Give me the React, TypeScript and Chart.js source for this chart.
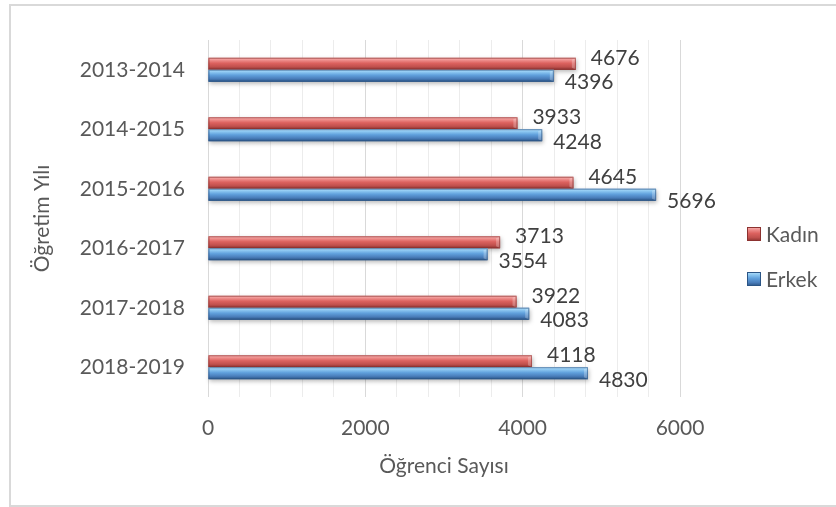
import React, { useEffect, useRef } from 'react';
import { Chart, registerables } from 'chart.js';

Chart.register(...registerables);

// ---- Data ----
const categories = ['2013-2014', '2014-2015', '2015-2016', '2016-2017', '2017-2018', '2018-2019'];
const kadin = [4676, 3933, 4645, 3713, 3922, 4118];
const erkek = [4396, 4248, 5696, 3554, 4083, 4830];
const seriesNames = ['Kadın', 'Erkek'];
const xTitle = 'Öğrenci Sayısı';
const yTitle = 'Öğretim Yılı';
const xMin = 0;
const xMax = 6000;
const xMajorStep = 2000;
const xMinorStep = 400;

const FONT = 'Lato, "Open Sans", sans-serif';
const FONT_SIZE = 21;
const AXIS_COLOR = '#595959';
const LABEL_COLOR = '#404040';

const gradStops = [
  // Kadın (red)
  [
    [0, '#f8b6b5'],
    [0.18, '#ef918f'],
    [0.45, '#dc625f'],
    [0.75, '#c0504d'],
    [1, '#8c3230'],
  ],
  // Erkek (blue)
  [
    [0, '#b8e2fb'],
    [0.18, '#8fc9f2'],
    [0.45, '#61a1dd'],
    [0.75, '#4a7ebb'],
    [1, '#2b5586'],
  ],
];
const edgeColors = ['#8c3230', '#2b5586'];

function makeGrad(ctx: CanvasRenderingContext2D, top: number, h: number, idx: number) {
  const g = ctx.createLinearGradient(0, top, 0, top + h);
  for (const [o, c] of gradStops[idx]) g.addColorStop(o as number, c as string);
  return g;
}

const decorPlugin = {
  id: 'decor',
  beforeDraw(chart: any) {
    const ctx = chart.ctx as CanvasRenderingContext2D;
    ctx.save();
    ctx.fillStyle = '#ffffff';
    ctx.fillRect(0, 0, chart.width, chart.height);
    ctx.strokeStyle = '#d9d9d9';
    ctx.lineWidth = 2;
    ctx.strokeRect(10, 5, chart.width + 20, chart.height - 6);
    ctx.restore();
  },
  afterDatasetsDraw(chart: any) {
    const ctx = chart.ctx as CanvasRenderingContext2D;
    chart.data.datasets.forEach((ds: any, di: number) => {
      const meta = chart.getDatasetMeta(di);
      meta.data.forEach((el: any) => {
        const { x, y, base, height } = el.getProps(['x', 'y', 'base', 'height'], true);
        const top = y - height / 2;
        const left = Math.min(base, x);
        const w = Math.abs(x - base);
        ctx.save();
        ctx.shadowColor = 'rgba(0,0,0,0.28)';
        ctx.shadowBlur = 4;
        ctx.shadowOffsetX = 1;
        ctx.shadowOffsetY = 2;
        ctx.fillStyle = makeGrad(ctx, top, height, di);
        ctx.fillRect(left, top, w, height);
        ctx.restore();
        // end bevel
        ctx.save();
        ctx.fillStyle = 'rgba(255,255,255,0.25)';
        ctx.beginPath();
        ctx.moveTo(left + w - 4, top + 2);
        ctx.lineTo(left + w, top);
        ctx.lineTo(left + w, top + height);
        ctx.lineTo(left + w - 4, top + height - 2);
        ctx.closePath();
        ctx.fill();
        ctx.strokeStyle = edgeColors[di];
        ctx.globalAlpha = 0.6;
        ctx.lineWidth = 1;
        ctx.strokeRect(left + 0.5, top + 0.5, w - 1, height - 1);
        ctx.restore();
      });
    });
    // data labels
    ctx.save();
    ctx.font = `${FONT_SIZE}px ${FONT}`;
    ctx.fillStyle = LABEL_COLOR;
    ctx.textAlign = 'left';
    ctx.textBaseline = 'middle';
    chart.data.datasets.forEach((ds: any, di: number) => {
      const meta = chart.getDatasetMeta(di);
      meta.data.forEach((el: any, i: number) => {
        const { x, y } = el.getProps(['x', 'y'], true);
        const dx = di === 0 ? 15 : 11;
        const dy = di === 0 ? -6 : 7;
        ctx.fillText(String(ds.data[i]), x + dx, y + dy);
      });
    });
    ctx.restore();
  },
  afterDraw(chart: any) {
    // legend
    const ctx = chart.ctx as CanvasRenderingContext2D;
    const items = [0, 1];
    const ys = [234, 279];
    ctx.save();
    items.forEach((di, k) => {
      const cy = ys[k];
      const sx = 747;
      const size = 14;
      const top = cy - size / 2;
      ctx.fillStyle = makeGrad(ctx, top, size, di);
      ctx.fillRect(sx, top, size, size);
      ctx.strokeStyle = edgeColors[di];
      ctx.lineWidth = 1;
      ctx.strokeRect(sx + 0.5, top + 0.5, size - 1, size - 1);
      ctx.fillStyle = AXIS_COLOR;
      ctx.font = `${FONT_SIZE}px ${FONT}`;
      ctx.textAlign = 'left';
      ctx.textBaseline = 'middle';
      ctx.fillText(chart.data.datasets[di].label, 766, cy + 1);
    });
    ctx.restore();
  },
};

export default function App() {
  const ref = useRef<HTMLCanvasElement | null>(null);

  useEffect(() => {
    if (!ref.current) return;
    const chart = new Chart(ref.current, {
      type: 'bar',
      data: {
        labels: categories,
        datasets: [
          {
            label: seriesNames[0],
            data: kadin,
            backgroundColor: '#c0504d',
            borderWidth: 0,
            categoryPercentage: 0.4,
            barPercentage: 1,
          },
          {
            label: seriesNames[1],
            data: erkek,
            backgroundColor: '#4f81bd',
            borderWidth: 0,
            categoryPercentage: 0.4,
            barPercentage: 1,
          },
        ],
      },
      options: {
        indexAxis: 'y',
        responsive: false,
        animation: false,
        devicePixelRatio: 1,
        layout: { padding: { left: 0, top: 40, right: 156, bottom: 0 } },
        plugins: {
          legend: { display: false },
          tooltip: { enabled: false },
        },
        scales: {
          x: {
            min: xMin,
            max: xMax,
            border: { display: false },
            grid: {
              drawTicks: false,
              color: (c: any) => (c.tick && c.tick.value % xMajorStep === 0 ? '#d9d9d9' : '#ececec'),
              lineWidth: 1,
            },
            ticks: {
              stepSize: xMinorStep,
              autoSkip: false,
              maxRotation: 0,
              padding: 19,
              color: AXIS_COLOR,
              font: { family: FONT, size: FONT_SIZE },
              callback: (v: any) => (Number(v) % xMajorStep === 0 ? String(v) : ''),
            },
            title: {
              display: true,
              text: xTitle,
              color: AXIS_COLOR,
              font: { family: FONT, size: FONT_SIZE },
              padding: { top: 0, bottom: 28 },
            },
            afterFit: (s: any) => {
              s.height = 110;
            },
          },
          y: {
            border: { display: false },
            grid: { display: false, drawTicks: false },
            ticks: {
              padding: 23,
              color: AXIS_COLOR,
              font: { family: FONT, size: FONT_SIZE },
            },
            title: {
              display: true,
              text: yTitle,
              color: AXIS_COLOR,
              font: { family: FONT, size: FONT_SIZE },
              padding: { top: 30, bottom: 0 },
            },
            afterFit: (s: any) => {
              s.width = 208;
            },
          },
        },
      },
      plugins: [decorPlugin],
    });
    return () => chart.destroy();
  }, []);

  return (
    <div style={{ position: 'fixed', left: 0, top: 0, width: 836, height: 507, background: '#fff' }}>
      <canvas ref={ref} width={836} height={507} style={{ display: 'block', width: 836, height: 507 }} />
    </div>
  );
}
